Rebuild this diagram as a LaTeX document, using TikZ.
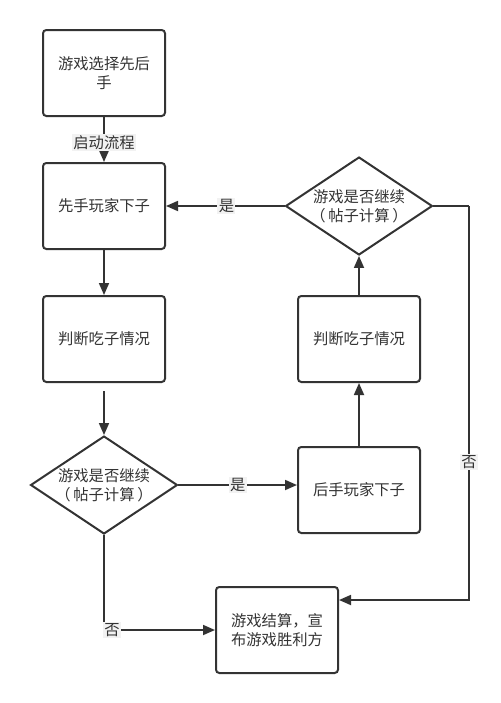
\documentclass[tikz,border=0pt]{standalone}
\usepackage{fontspec}
\setmainfont{Noto Sans CJK SC}
\usetikzlibrary{shapes.geometric,arrows.meta,calc}
\definecolor{ink}{HTML}{333333}
\definecolor{lab}{HTML}{F2F2F2}
\begin{document}
\begin{tikzpicture}[x=0.75pt,y=-0.75pt,
  font=\fontsize{11.5}{14}\selectfont,
  every node/.style={text=ink},
  proc/.style={draw=ink,line width=1.5pt,rounded corners=2.5pt,minimum width=91.5pt,minimum height=64.5pt,align=center,inner sep=2pt},
  deci/.style={draw=ink,line width=1.5pt,shape=diamond,aspect=1.5,inner sep=0pt,minimum width=110pt,minimum height=72pt,align=center},
  conn/.style={draw=ink,line width=1.3pt,-{Triangle[length=9pt,width=7.5pt]}},
  plain/.style={draw=ink,line width=1.3pt},
  elabel/.style={fill=lab,inner sep=1pt}]
\useasboundingbox (0,0) rectangle (500,703);
\node[proc] (b1) at (104,73) {游戏选择先后\\手};
\node[proc] (b2) at (104,206) {先手玩家下子};
\node[proc] (b3) at (104,339) {判断吃子情况};
\node[deci] (d1) at (104,485) {游戏是否继续\\（\hspace{2pt}帖子计算\hspace{2pt}）};
\node[proc] (b4) at (359,490) {后手玩家下子};
\node[proc] (b5) at (359,339) {判断吃子情况};
\node[deci] (d2) at (359,206) {游戏是否继续\\（\hspace{2pt}帖子计算\hspace{2pt}）};
\node[proc] (b6) at (277,630) {游戏结算，宣\\布游戏胜利方};
\coordinate (r1) at (469,206);
\coordinate (r2) at (469,600);

\draw[conn] (b1) -- node[elabel,pos=0.57]{启动流程} (b2);
\draw[conn] (b2) -- (b3);
\draw[conn,shorten <=6pt] (b3) -- (d1);
\draw[conn] (d1.east) -- node[elabel,pos=0.5]{是} (d1.east -| b4.west);
\draw[conn] (b4) -- (b5);
\draw[conn] (b5) -- (d2);
\draw[conn] (d2.west) -- node[elabel,pos=0.49]{是} (b2.east);
\draw[conn] (d1.south) |- node[elabel,pos=0.536]{否} (b6.west);
\draw[plain] (d2.east) -- (r1);
\draw[conn] (r1) -- node[elabel,pos=0.65]{否} (r2) -- (r2 -| b6.east);
\end{tikzpicture}
\end{document}
